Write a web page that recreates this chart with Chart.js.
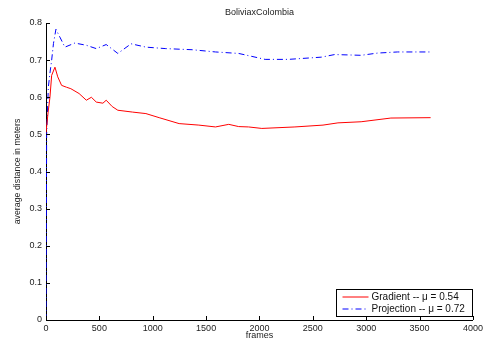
<!DOCTYPE html>
<html>
<head>
<meta charset="utf-8">
<script src="https://cdn.jsdelivr.net/npm/chart.js@4"></script>
<style>
  html, body { margin: 0; padding: 0; background: #fff; }
  #wrap { width: 486px; height: 342px; position: relative; }
</style>
</head>
<body>
<div id="wrap"><canvas id="chart"></canvas></div>
<script>
// values
const chartTitle = 'BoliviaxColombia';
const xTitle = 'frames';
const yTitle = 'average distance in meters';
const xTicks = [0, 500, 1000, 1500, 2000, 2500, 3000, 3500, 4000];
const yTicks = [0, 0.1, 0.2, 0.3, 0.4, 0.5, 0.6, 0.7, 0.8];

const gradientFrames = [0, 20, 37, 53, 84, 110, 146, 192, 233, 310, 378, 425, 471, 533, 564, 620, 673, 812, 936, 1060, 1247, 1432, 1588, 1712, 1805, 1898, 2022, 2332, 2595, 2735, 2952, 3231, 3603];
const gradientValues = [0.505, 0.56, 0.60, 0.659, 0.681, 0.655, 0.632, 0.627, 0.623, 0.610, 0.592, 0.600, 0.587, 0.584, 0.592, 0.575, 0.565, 0.560, 0.556, 0.545, 0.529, 0.525, 0.520, 0.527, 0.521, 0.520, 0.516, 0.520, 0.525, 0.531, 0.534, 0.544, 0.545];

const projectionFrames = [0, 6, 22, 37, 53, 70, 93, 130, 177, 270, 378, 471, 564, 673, 797, 936, 1122, 1370, 1588, 1805, 2053, 2270, 2580, 2704, 2952, 3107, 3293, 3603];
const projectionValues = [0.0, 0.5, 0.627, 0.665, 0.70, 0.745, 0.783, 0.762, 0.735, 0.746, 0.740, 0.731, 0.742, 0.718, 0.744, 0.735, 0.731, 0.728, 0.722, 0.718, 0.702, 0.702, 0.708, 0.715, 0.713, 0.719, 0.722, 0.722];

const seriesNames = ['Gradient -- \u03bc = 0.54', 'Projection -- \u03bc = 0.72'];
const seriesColors = ['#ff0000', '#0000ff'];

const FONT = 'Liberation Sans, Arial, sans-serif';

const toPoints = (xs, ys) => xs.map((x, i) => ({ x: x, y: ys[i] }));

// inward ticks, title, axis titles and boxed legend like the matlab figure
const matlabDecor = {
  id: 'matlabDecor',
  afterDraw(chart) {
    const ctx = chart.ctx;
    const area = chart.chartArea;
    const xs = chart.scales.x, ys = chart.scales.y;
    ctx.save();
    ctx.strokeStyle = '#000';
    ctx.lineWidth = 1;
    ctx.beginPath();
    xTicks.forEach(v => {
      const px = Math.round(xs.getPixelForValue(v)) + 0.5;
      ctx.moveTo(px, area.bottom);
      ctx.lineTo(px, area.bottom - 4);
    });
    yTicks.forEach(v => {
      const py = Math.round(ys.getPixelForValue(v)) + 0.5;
      ctx.moveTo(area.left, py);
      ctx.lineTo(area.left + 4, py);
    });
    ctx.stroke();

    ctx.fillStyle = '#222';
    ctx.textAlign = 'center';
    ctx.textBaseline = 'middle';
    ctx.font = '9px ' + FONT;
    ctx.fillText(chartTitle, (area.left + area.right) / 2, 13);
    ctx.fillText(xTitle, (area.left + area.right) / 2, 336);
    ctx.save();
    ctx.translate(18, (area.top + area.bottom) / 2);
    ctx.rotate(-Math.PI / 2);
    ctx.font = '8.8px ' + FONT;
    ctx.fillText(yTitle, 0, 0);
    ctx.restore();

    // legend box
    const bx = 336.5, by = 289.5, bw = 136, bh = 27;
    ctx.fillStyle = '#fff';
    ctx.fillRect(bx, by, bw, bh);
    ctx.strokeStyle = '#000';
    ctx.strokeRect(bx, by, bw, bh);
    ctx.font = '10px ' + FONT;
    ctx.textAlign = 'left';
    chart.data.datasets.forEach((ds, i) => {
      const ly = by + 7.5 + i * 12;
      ctx.strokeStyle = ds.borderColor;
      ctx.lineWidth = 1;
      ctx.setLineDash(ds.borderDash || []);
      ctx.beginPath();
      ctx.moveTo(bx + 6, ly);
      ctx.lineTo(bx + 32, ly);
      ctx.stroke();
      ctx.setLineDash([]);
      ctx.fillStyle = '#111';
      ctx.fillText(ds.label, bx + 35, ly);
    });
    ctx.restore();
  }
};

new Chart(document.getElementById('chart'), {
  type: 'line',
  data: {
    datasets: [
      {
        label: seriesNames[0],
        data: toPoints(gradientFrames, gradientValues),
        borderColor: seriesColors[0],
        borderWidth: 1,
        pointRadius: 0,
        tension: 0,
        fill: false
      },
      {
        label: seriesNames[1],
        data: toPoints(projectionFrames, projectionValues),
        borderColor: seriesColors[1],
        borderWidth: 1,
        borderDash: [6, 3, 1, 3],
        pointRadius: 0,
        tension: 0,
        fill: false
      }
    ]
  },
  options: {
    responsive: true,
    maintainAspectRatio: false,
    animation: false,
    layout: { padding: { left: 0, right: 10, top: 23, bottom: 0 } },
    plugins: {
      legend: { display: false },
      title: { display: false },
      tooltip: { enabled: false }
    },
    scales: {
      x: {
        type: 'linear',
        min: 0,
        max: 4000,
        afterBuildTicks: s => { s.ticks = xTicks.map(v => ({ value: v })); },
        afterFit: s => { s.height = 22; },
        grid: { display: true, drawOnChartArea: false, drawTicks: false },
        border: { display: true, color: '#000', width: 1 },
        ticks: {
          color: '#222',
          font: { family: FONT, size: 9 },
          padding: 3,
          maxRotation: 0,
          autoSkip: false,
          callback: v => String(v)
        }
      },
      y: {
        min: 0,
        max: 0.8,
        afterBuildTicks: s => { s.ticks = yTicks.map(v => ({ value: v })); },
        afterFit: s => { s.width = 46; },
        grid: { display: true, drawOnChartArea: false, drawTicks: false },
        border: { display: true, color: '#000', width: 1 },
        ticks: {
          color: '#222',
          font: { family: FONT, size: 9 },
          padding: 4,
          autoSkip: false,
          callback: v => (v === 0 ? '0' : v.toFixed(1))
        }
      }
    }
  },
  plugins: [matlabDecor]
});
</script>
</body>
</html>
